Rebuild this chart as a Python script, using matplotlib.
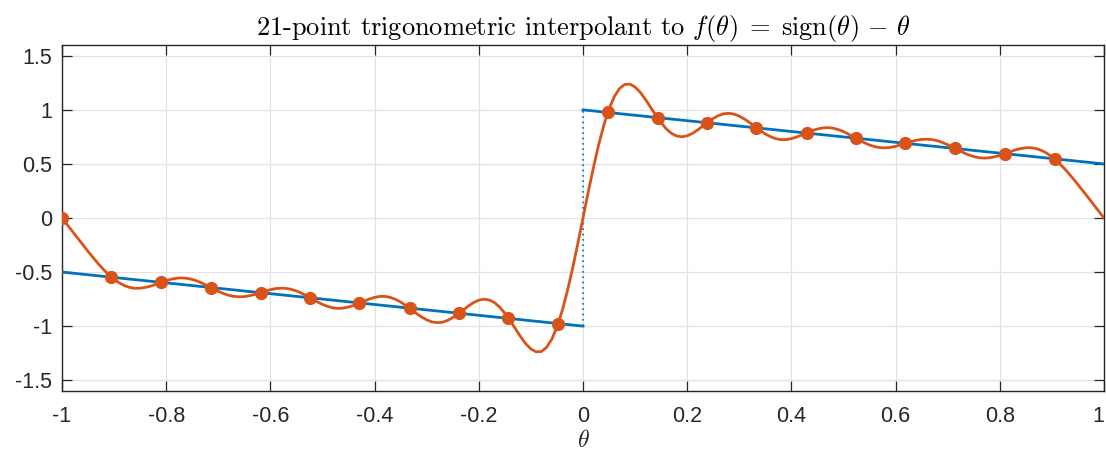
import numpy as np
import matplotlib
matplotlib.use("Agg")
import matplotlib.pyplot as plt

blue = "#0072BD"
orange = "#D95319"

# sign(theta) - theta/2, two pieces with the jump at 0
line_x_left = [-1.0, 0.0]
line_y_left = [-0.5, -1.0]
line_x_right = [0.0, 1.0]
line_y_right = [1.0, 0.5]
jump_x = [0.0, 0.0]
jump_y = [-1.0, 1.0]

# 21 interpolation points
node_x = [-1.000, -0.905, -0.810, -0.714, -0.619, -0.524, -0.429, -0.333, -0.238, -0.143, -0.048,
          0.048, 0.143, 0.238, 0.333, 0.429, 0.524, 0.619, 0.714, 0.810, 0.905]
node_y = [0.000, -0.548, -0.595, -0.643, -0.690, -0.738, -0.786, -0.833, -0.881, -0.929, -0.976,
          0.976, 0.929, 0.881, 0.833, 0.786, 0.738, 0.690, 0.643, 0.595, 0.548]

# interpolant sampled every 0.01 from -1 to 1
curve_x = np.linspace(-1, 1, 201)
curve_y = [
    -0.000, -0.062, -0.124, -0.187, -0.248, -0.309, -0.368, -0.425, -0.478, -0.525,
    -0.566, -0.600, -0.625, -0.642, -0.650, -0.649, -0.642, -0.630, -0.613, -0.596,
    -0.580, -0.566, -0.557, -0.554, -0.558, -0.568, -0.584, -0.605, -0.629, -0.654,
    -0.678, -0.698, -0.715, -0.725, -0.729, -0.727, -0.719, -0.707, -0.692, -0.677,
    -0.663, -0.653, -0.649, -0.651, -0.660, -0.675, -0.696, -0.721, -0.748, -0.775,
    -0.799, -0.818, -0.831, -0.836, -0.833, -0.823, -0.808, -0.789, -0.768, -0.749,
    -0.734, -0.725, -0.725, -0.734, -0.752, -0.777, -0.810, -0.845, -0.882, -0.915,
    -0.942, -0.961, -0.968, -0.964, -0.948, -0.921, -0.888, -0.851, -0.814, -0.782,
    -0.760, -0.751, -0.758, -0.782, -0.824, -0.881, -0.949, -1.023, -1.096, -1.162,
    -1.211, -1.238, -1.235, -1.197, -1.122, -1.009, -0.859, -0.676, -0.466, -0.238,
    0.000,
    0.238, 0.466, 0.676, 0.859, 1.009, 1.122, 1.197, 1.235, 1.238, 1.211,
    1.162, 1.096, 1.023, 0.949, 0.881, 0.824, 0.782, 0.758, 0.751, 0.760,
    0.782, 0.814, 0.851, 0.888, 0.921, 0.948, 0.964, 0.968, 0.961, 0.942,
    0.915, 0.882, 0.845, 0.810, 0.777, 0.752, 0.734, 0.725, 0.725, 0.734,
    0.749, 0.768, 0.789, 0.808, 0.823, 0.833, 0.836, 0.831, 0.818, 0.799,
    0.775, 0.748, 0.721, 0.696, 0.675, 0.660, 0.651, 0.649, 0.653, 0.663,
    0.677, 0.692, 0.707, 0.719, 0.727, 0.729, 0.725, 0.715, 0.698, 0.678,
    0.654, 0.629, 0.605, 0.584, 0.568, 0.558, 0.554, 0.557, 0.566, 0.580,
    0.596, 0.613, 0.630, 0.642, 0.649, 0.650, 0.642, 0.625, 0.600, 0.566,
    0.525, 0.478, 0.425, 0.368, 0.309, 0.248, 0.187, 0.124, 0.062, -0.000,
]

x_ticks = [-1, -0.8, -0.6, -0.4, -0.2, 0, 0.2, 0.4, 0.6, 0.8, 1]
x_labels = ["-1", "-0.8", "-0.6", "-0.4", "-0.2", "0", "0.2", "0.4", "0.6", "0.8", "1"]
y_ticks = [-1.5, -1, -0.5, 0, 0.5, 1, 1.5]
y_labels = ["-1.5", "-1", "-0.5", "0", "0.5", "1", "1.5"]

plt.rcParams["mathtext.fontset"] = "cm"
plt.rcParams["font.family"] = "Liberation Sans"

fig = plt.figure(figsize=(11.06, 4.55), dpi=100)
ax = fig.add_axes([62 / 1106, 1 - 391 / 455, 1042 / 1106, 346 / 455])

ax.plot(line_x_left, line_y_left, color=blue, lw=2.0, zorder=3)
ax.plot(line_x_right, line_y_right, color=blue, lw=2.0, zorder=3)
ax.plot(jump_x, jump_y, color=blue, lw=1.2, ls=(0, (1, 2.2)), zorder=3)
ax.plot(curve_x, curve_y, color=orange, lw=2.0, zorder=4)
ax.plot(node_x, node_y, "o", color=orange, ms=8.5, zorder=5)

ax.set_xlim(-1, 1)
ax.set_ylim(-1.6, 1.6)
ax.set_xticks(x_ticks)
ax.set_xticklabels(x_labels)
ax.set_yticks(y_ticks)
ax.set_yticklabels(y_labels)
ax.grid(True, color="#e3e3e3", lw=0.9)
ax.set_axisbelow(True)
for s in ax.spines.values():
    s.set_color("#262626")
    s.set_linewidth(1.0)
ax.tick_params(axis="both", direction="in", length=7.5, width=0.9, color="#262626",
               top=True, right=True, labelsize=15.5, labelcolor="#262626")
ax.tick_params(axis="x", pad=11)
ax.tick_params(axis="y", pad=7)
# keep the last x label inside the figure
ax.get_xticklabels()[-1].set_horizontalalignment("right")

ax.set_xlabel(r"$\theta$", fontsize=17, labelpad=2, color="#262626")
ax.set_title(r"21-point trigonometric interpolant to $f(\theta)\;=\;\mathrm{sign}(\theta)\,-\,\theta$",
             fontfamily="cmr10", fontsize=19, pad=7)

fig.savefig("out.png", dpi=100)
